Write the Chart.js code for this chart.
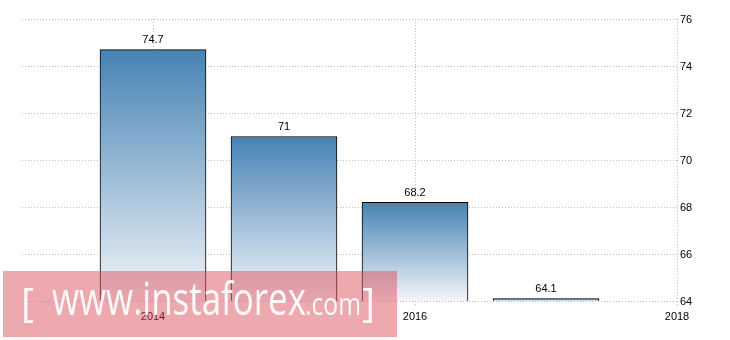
<!DOCTYPE html>
<html>
<head>
<meta charset="utf-8">
<script src="https://cdn.jsdelivr.net/npm/chart.js@4"></script>
<style>
html,body{margin:0;padding:0;background:#fff;}
#wrap{position:relative;width:730px;height:340px;}
</style>
</head>
<body>
<div id="wrap"><canvas id="c" width="730" height="340"></canvas></div>
<script>
const years = [2014, 2015, 2016, 2017];
const values = [74.7, 71, 68.2, 64.1];
const yTicks = [64, 66, 68, 70, 72, 74, 76];
const xTicks = [2014, 2016, 2018];
const xRange = [2013, 2018];

const FONT = "'Liberation Sans', Arial, sans-serif";

function barGradient(ctx) {
  const chart = ctx.chart;
  if (!chart.chartArea || !chart.scales.y || ctx.parsed == null) return '#6a9cc6';
  const y = chart.scales.y;
  const top = y.getPixelForValue(ctx.parsed.y);
  const bottom = y.getPixelForValue(yTicks[0]);
  if (!(bottom > top)) return '#6a9cc6';
  const g = chart.ctx.createLinearGradient(0, top, 0, bottom);
  g.addColorStop(0, '#4682b4');
  g.addColorStop(1, '#f3f6fa');
  return g;
}

const valueLabels = {
  id: 'valueLabels',
  afterDatasetsDraw(chart) {
    const ctx = chart.ctx;
    const meta = chart.getDatasetMeta(0);
    ctx.save();
    ctx.font = '11px ' + FONT;
    ctx.fillStyle = '#000';
    ctx.textAlign = 'center';
    ctx.textBaseline = 'bottom';
    meta.data.forEach((bar, i) => {
      ctx.fillText(String(values[i]), bar.x, bar.y - 4);
    });
    ctx.restore();
  }
};

const watermark = {
  id: 'watermark',
  afterDraw(chart) {
    const ctx = chart.ctx;
    ctx.save();
    ctx.fillStyle = 'rgba(218,72,82,0.47)';
    ctx.fillRect(3, 271, 394, 66);
    ctx.fillStyle = 'rgba(255,255,255,0.95)';
    ctx.textBaseline = 'alphabetic';
    ctx.textAlign = 'left';
    ctx.font = "40px 'Open Sans', sans-serif";
    ctx.fillText('[', 21, 317);
    ctx.fillText(']', 362, 317);
    ctx.font = "46px 'Open Sans', sans-serif";
    ctx.fillText('www.instaforex', 52, 315, 254);
    ctx.font = "31px 'Open Sans', sans-serif";
    ctx.fillText('.com', 305, 315, 56);
    ctx.restore();
  }
};

new Chart(document.getElementById('c'), {
  type: 'bar',
  data: {
    datasets: [{
      data: years.map((x, i) => ({ x: x, y: values[i] })),
      backgroundColor: barGradient,
      borderColor: '#000',
      borderWidth: 1,
      borderSkipped: false,
      barThickness: 106
    }]
  },
  options: {
    responsive: false,
    animation: false,
    devicePixelRatio: 1,
    layout: { padding: { left: 22, top: 19, right: 0, bottom: 0 } },
    plugins: { legend: { display: false }, tooltip: { enabled: false } },
    scales: {
      x: {
        type: 'linear',
        min: xRange[0],
        max: xRange[1],
        offset: false,
        afterBuildTicks(scale) { scale.ticks = xTicks.map(v => ({ value: v })); },
        afterFit(scale) { scale.height = 39; },
        border: { display: false, dash: [1, 2] },
        grid: {
          offset: false,
          color: '#bdbdbd',
          lineWidth: 1,
          tickLength: 4,
          drawTicks: true,
          tickBorderDash: [1, 2]
        },
        ticks: {
          font: { family: FONT, size: 11 },
          color: '#000',
          padding: 5,
          maxRotation: 0,
          autoSkip: false,
          callback: v => String(v)
        }
      },
      y: {
        position: 'right',
        min: yTicks[0],
        max: yTicks[yTicks.length - 1],
        afterBuildTicks(scale) { scale.ticks = yTicks.map(v => ({ value: v })); },
        afterFit(scale) { scale.width = 53; },
        border: { display: false, dash: [1, 2] },
        grid: {
          color: '#bdbdbd',
          lineWidth: 1,
          drawTicks: false
        },
        ticks: {
          font: { family: FONT, size: 11 },
          color: '#000',
          padding: 3,
          labelOffset: 1,
          callback: v => String(v)
        }
      }
    }
  },
  plugins: [valueLabels, watermark]
});
</script>
</body>
</html>
